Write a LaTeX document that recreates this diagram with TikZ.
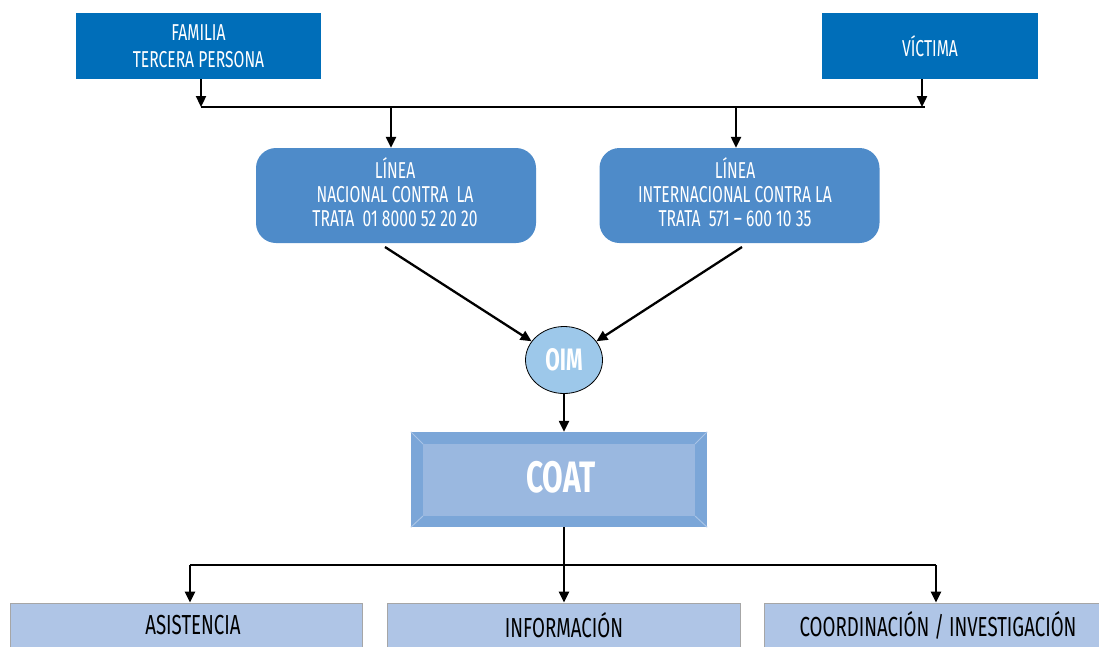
\documentclass[tikz,border=0pt]{standalone}
\usepackage{fontspec}
\setmainfont[FakeStretch=0.68]{Fira Sans}
\usetikzlibrary{arrows.meta,calc,shapes.geometric}
\definecolor{topblue}{HTML}{006EB9}
\definecolor{lineblue}{HTML}{4E8BC9}
\definecolor{oimfill}{HTML}{9DC8EA}
\definecolor{coatout}{HTML}{7BA6D8}
\definecolor{coatin}{HTML}{9AB8E0}
\definecolor{coatedge}{HTML}{A9C4E6}
\definecolor{botfill}{HTML}{AFC5E6}
\tikzset{
  topbox/.style={fill=topblue, text=white, minimum height=66pt, inner sep=0pt, align=center, font=\fontsize{23}{27}\selectfont},
  linebox/.style={fill=lineblue, rounded corners=20pt, minimum width=280pt, minimum height=95pt, inner sep=0pt},
  linetext/.style={text=white, align=center, inner sep=0pt, font=\fontsize{23}{24}\selectfont},
  oimnode/.style={ellipse, draw=black, line width=0.8pt, fill=oimfill, minimum width=77pt, minimum height=67pt, inner sep=0pt, text=white, font=\fontsize{31}{32}\selectfont\bfseries},
  botbox/.style={fill=botfill, draw=gray!70, line width=0.8pt, minimum height=60pt, inner sep=0pt},
  botlabel/.style={text=black, font=\fontsize{27.5}{28}\selectfont},
  conn/.style={line width=2.3pt, -{Triangle[length=11pt,width=10pt]}},
  bus/.style={line width=1.4pt}
}
\begin{document}
\begin{tikzpicture}[x=1pt,y=-1pt]
\useasboundingbox (0,0) rectangle (1099,646);
\clip (0,0) rectangle (1099,646);
% top boxes
\node[topbox, minimum width=245pt] (fam) at (198.5,46) {FAMILIA\\TERCERA PERSONA};
\node[topbox, minimum width=216pt] (vic) at (930,46) {VÍCTIMA};
% bus
\coordinate (busL) at (201,107);
\coordinate (busR) at (925,107);
\draw[bus] (busL) -- (busR);
\draw[conn] (fam.south -| busL) -- (busL);
\draw[conn] ($(vic.south)+(-8,0)$) -- ($(busR)+(-3,0)$);
% line boxes
\node[linebox] (nac) at (396,195.5) {};
\node[linetext] (nact) at (395,192) {LÍNEA\\NACIONAL CONTRA~ LA\\TRATA~ 01 8000 52 20 20};
\node[linebox] (int) at (739.5,195.5) {};
\node[linetext] (intt) at (735,192) {LÍNEA\\INTERNACIONAL CONTRA LA\\TRATA~ 571 -- 600 10 35};
\draw[conn] (busL -| 391,0) -- (nac.north -| 391,0);
\draw[conn] (busL -| 736,0) -- (int.north -| 736,0);
% OIM
\node[oimnode] (oim) at (564,360) {OIM};
\coordinate (dn) at (385,247);
\coordinate (di) at (742,247);
\draw[conn] (dn) -- (oim.150);
\draw[conn] (di) -- (oim.30);
% COAT bevel box
\node[fill=coatout, minimum width=296pt, minimum height=95pt, inner sep=0pt] (coat) at (559,479.5) {};
\fill[coatin] (423,444) rectangle (695,516);
\draw[coatedge, line width=1pt] (coat.north west) -- (423,444) (coat.north east) -- (695,444) (coat.south west) -- (423,516) (coat.south east) -- (695,516);
\node[text=white, font=\fontsize{44}{48}\selectfont\bfseries] (coatt) at (561,477) {COAT};
\draw[conn] (oim.south) -- (oim.south |- coat.north);
% bottom
\coordinate (bus2) at (564,565);
\node[botbox, minimum width=352pt] (asi) at (186,633) {};
\node[botbox, minimum width=353pt] (inf) at (563.5,633) {};
\node[botbox, minimum width=340pt] (coo) at (934,633) {};
\node[botlabel] (asit) at (193,625) {ASISTENCIA};
\node[botlabel] (inft) at (564,625) {INFORMACIÓN};
\node[botlabel] (coot) at (938,625) {COORDINACIÓN / INVESTIGACIÓN};
\draw[line width=2.3pt] (coat.south -| bus2) -- (bus2);
\draw[bus] (190,565) -- (936,565);
\draw[conn] (190,565) -- (asi.north -| 190,0);
\draw[conn] (bus2) -- (inf.north -| bus2);
\draw[conn] (936,565) -- (coo.north -| 936,0);
\end{tikzpicture}
\end{document}
